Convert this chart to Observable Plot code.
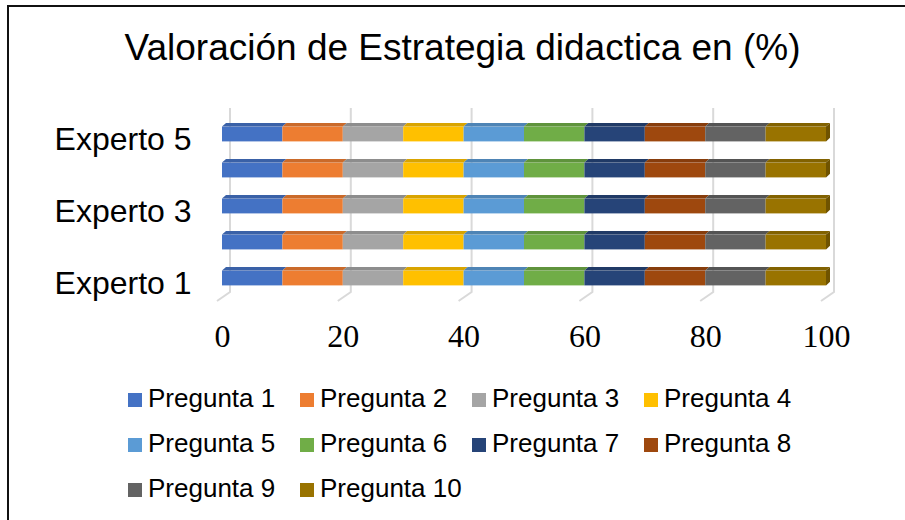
<!DOCTYPE html>
<html>
<head>
<meta charset="utf-8">
<script src="https://cdn.jsdelivr.net/npm/d3@7"></script>
<script src="https://cdn.jsdelivr.net/npm/@observablehq/plot@0.6"></script>
<style>
  html, body { margin: 0; padding: 0; background: #fff; }
  #page { position: relative; width: 905px; height: 520px; overflow: hidden; background: #fff;
          font-family: "Liberation Sans", Arial, sans-serif; }
  #frame { position: absolute; left: 7px; top: 5px; width: 920px; height: 540px;
           border-left: 2px solid #111; border-top: 2px solid #111; }
  #title { position: absolute; left: 10px; width: 905px; top: 29px; text-align: center;
           font-size: 37px; line-height: 37px; color: #000; white-space: nowrap; }
  #chart { position: absolute; left: 0; top: 0; }
  .leg { position: absolute; font-size: 26px; line-height: 26px; color: #000; white-space: nowrap; }
  .leg .sw { position: absolute; left: 0; top: 8px; width: 14px; height: 14px; }
  .leg .tx { position: absolute; left: 20px; top: 0; }
</style>
</head>
<body>
<div id="page">
  <div id="frame"></div>
  <div id="chart"></div>
  <div id="title"></div>
  <div id="legend"></div>
</div>
<script>
const titulo = "Valoración de Estrategia didactica en (%)";
const expertos = ["Experto 1", "Experto 2", "Experto 3", "Experto 4", "Experto 5"];
const preguntas = ["Pregunta 1", "Pregunta 2", "Pregunta 3", "Pregunta 4", "Pregunta 5",
                   "Pregunta 6", "Pregunta 7", "Pregunta 8", "Pregunta 9", "Pregunta 10"];
const colores = ["#4472C4", "#ED7D31", "#A5A5A5", "#FFC000", "#5B9BD5",
                 "#70AD47", "#264478", "#9E480E", "#636363", "#997300"];
// valores[experto][pregunta] in %
const valores = [
  [10, 10, 10, 10, 10, 10, 10, 10, 10, 10],
  [10, 10, 10, 10, 10, 10, 10, 10, 10, 10],
  [10, 10, 10, 10, 10, 10, 10, 10, 10, 10],
  [10, 10, 10, 10, 10, 10, 10, 10, 10, 10],
  [10, 10, 10, 10, 10, 10, 10, 10, 10, 10]
];
const xTicks = [0, 20, 40, 60, 80, 100];
const yTickLabels = ["Experto 1", "Experto 3", "Experto 5"];

const rows = [];
expertos.forEach((e, i) => preguntas.forEach((p, j) => rows.push({experto: e, pregunta: p, valor: valores[i][j]})));

const INSET = 10.6;     // gap between band edge and bar face
const DEPTH_X = 4, DEPTH_Y = 3.6;  // 3D depth of bar top/side

function gridlines(index, scales, values, dimensions) {
  const g = d3.create("svg:g").attr("fill", "none").attr("stroke", "#D9D9D9").attr("stroke-width", 2);
  const top = dimensions.marginTop;
  const bottom = dimensions.height - dimensions.marginBottom;
  for (const v of xTicks) {
    const x = scales.x(v);
    g.append("path").attr("d", `M${x + 8},${top}L${x + 8},${bottom}L${x - 5},${bottom + 9}`);
  }
  return g.node();
}

function faces(index, scales, values, dimensions) {
  const g = d3.create("svg:g");
  const bw = typeof scales.y.bandwidth === "function" ? scales.y.bandwidth() : 36.25;
  expertos.forEach((e, i) => {
    const top = scales.y(e) + INSET;
    const bottom = scales.y(e) + bw - INSET;
    let cum = 0;
    let lastX = 0, lastC = null;
    valores[i].forEach((v, j) => {
      const x0 = scales.x(cum), x1 = scales.x(cum + v);
      cum += v;
      const c = colores[j];
      g.append("path")
        .attr("d", `M${x0},${top}L${x1},${top}L${x1 + DEPTH_X},${top - DEPTH_Y}L${x0 + DEPTH_X},${top - DEPTH_Y}Z`)
        .attr("fill", d3.color(c).darker(0.45).formatHex());
      lastX = x1; lastC = c;
    });
    g.append("path")
      .attr("d", `M${lastX},${top}L${lastX + DEPTH_X},${top - DEPTH_Y}L${lastX + DEPTH_X},${bottom - DEPTH_Y}L${lastX},${bottom}Z`)
      .attr("fill", d3.color(lastC).darker(0.9).formatHex());
  });
  return g.node();
}

const chart = Plot.plot({
  width: 905,
  height: 370,
  marginLeft: 222,
  marginRight: 79,
  marginTop: 108,
  marginBottom: 78,
  style: {fontFamily: "'Liberation Sans', Arial, sans-serif", background: "transparent", color: "#000"},
  x: {domain: [0, 100], axis: null, label: null},
  y: {domain: expertos.slice().reverse(), range: [115.4, 296.6], padding: 0, axis: null, label: null},
  color: {domain: preguntas, range: colores},
  marks: [
    gridlines,
    Plot.barX(rows, Plot.stackX({x: "valor", y: "experto", fill: "pregunta", insetTop: INSET, insetBottom: INSET})),
    faces,
    Plot.axisX(xTicks, {tickSize: 0, tickPadding: 32, fontSize: 32, label: null,
                        fontFamily: "'Liberation Serif', 'Times New Roman', serif", fill: "#000"}),
    Plot.axisY(yTickLabels, {tickSize: 0, tickPadding: 31, fontSize: 32, dy: 5, label: null, fill: "#000"})
  ]
});
document.getElementById("chart").appendChild(chart);
document.getElementById("title").textContent = titulo;

const legend = document.getElementById("legend");
preguntas.forEach((p, k) => {
  const col = k % 4, row = Math.floor(k / 4);
  const item = document.createElement("div");
  item.className = "leg";
  item.style.left = (128 + col * 172) + "px";
  item.style.top = (385 + row * 45) + "px";
  const sw = document.createElement("div");
  sw.className = "sw";
  sw.style.background = colores[k];
  const tx = document.createElement("div");
  tx.className = "tx";
  tx.textContent = p;
  item.appendChild(sw);
  item.appendChild(tx);
  legend.appendChild(item);
});
</script>
</body>
</html>
